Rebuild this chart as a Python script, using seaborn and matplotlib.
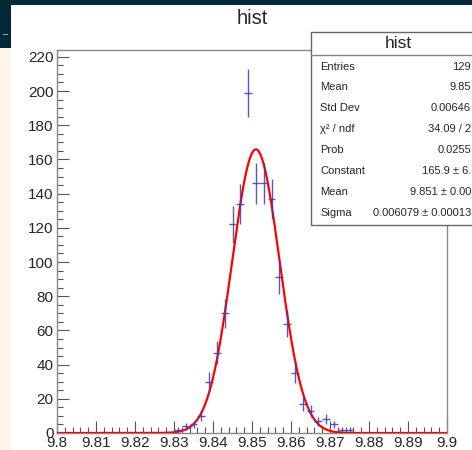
import numpy as np
import matplotlib.pyplot as plt
import seaborn as sns
from matplotlib.patches import Rectangle
from matplotlib.ticker import MultipleLocator

# histogram contents (non-empty bins only, bin width 0.002)
bin_centers = [9.831, 9.833, 9.835, 9.837, 9.839, 9.841, 9.843, 9.845, 9.847,
               9.849, 9.851, 9.853, 9.855, 9.857, 9.859, 9.861, 9.863, 9.865,
               9.867, 9.869, 9.871, 9.873, 9.875]
counts = [2, 4, 5, 10, 30, 47, 70, 122, 134,
          199, 146, 146, 137, 91, 64, 35, 17, 13,
          7, 8, 5, 2, 2]
bin_width = 0.002

# gaussian fit result
fit_const = 165.9
fit_mean = 9.851
fit_sigma = 0.006079

x_ticks = [9.80, 9.81, 9.82, 9.83, 9.84, 9.85, 9.86, 9.87, 9.88, 9.89, 9.90]
x_tick_labels = ["9.8", "9.81", "9.82", "9.83", "9.84", "9.85", "9.86",
                 "9.87", "9.88", "9.89", "9.9"]
y_ticks = [0, 20, 40, 60, 80, 100, 120, 140, 160, 180, 200, 220]

stat_labels = ["Entries", "Mean", "Std Dev", "χ² / ndf", "Prob",
               "Constant", "Mean", "Sigma"]
stat_values = ["129", "9.85", "0.00646", "34.09 / 2", "0.0255",
               "165.9 ± 6.", "9.851 ± 0.00", "0.006079 ± 0.00013"]

sns.set_style("ticks")
plt.rcParams["font.family"] = ["Liberation Sans", "DejaVu Sans"]

W, H = 472, 450
fig = plt.figure(figsize=(W / 100, H / 100), dpi=100)
fig.patch.set_facecolor("white")

def fx(px):
    return px / W

def fy(py):
    return 1 - py / H

# screenshot border bits
fig.add_artist(Rectangle((0, fy(5)), 1, 5 / H, transform=fig.transFigure,
                         color="#03283a", lw=0))
fig.add_artist(Rectangle((0, 0), fx(11), fy(48), transform=fig.transFigure,
                         color="#fdf6e5", lw=0))
fig.add_artist(Rectangle((0, fy(48)), fx(11), 48 / H, transform=fig.transFigure,
                         color="#03283a", lw=0))
fig.add_artist(Rectangle((fx(3), fy(35)), fx(5), 1.5 / H, transform=fig.transFigure,
                         color="#9aa6ad", lw=0))

ax = fig.add_axes([fx(57), fy(433), fx(447) - fx(57), fy(50) - fy(433)])

xs = np.linspace(9.8, 9.9, 600)
ys = fit_const * np.exp(-0.5 * ((xs - fit_mean) / fit_sigma) ** 2)
sns.lineplot(x=xs, y=ys, ax=ax, color="red", linewidth=1.6, zorder=3)

ax.errorbar(bin_centers, counts, yerr=np.sqrt(counts), xerr=bin_width / 2,
            fmt="none", ecolor="#3c3cb4", elinewidth=1.0, alpha=0.85, zorder=4)

ax.set_xlim(9.8, 9.9)
ax.set_ylim(0, 224)
ax.set_xticks(x_ticks)
ax.set_xticklabels(x_tick_labels)
ax.set_yticks(y_ticks)
ax.xaxis.set_minor_locator(MultipleLocator(0.002))
ax.yaxis.set_minor_locator(MultipleLocator(5))
ax.tick_params(which="major", direction="in", length=8.5, width=0.8,
               color="#555555", labelsize=11, pad=2.5)
ax.tick_params(which="minor", direction="in", length=4.3, width=0.8,
               color="#555555")
for s in ax.spines.values():
    s.set_color("#888888")
    s.set_linewidth(1.0)

fig.text(fx(252), fy(19), "hist", ha="center", va="center", fontsize=14.5)

# stat box
fig.add_artist(Rectangle((fx(311), fy(225)), fx(175), 193 / H,
                         transform=fig.transFigure, facecolor="white",
                         edgecolor="#666666", lw=1.0, zorder=5))
fig.add_artist(plt.Line2D([fx(311), fx(486)], [fy(55), fy(55)],
                          transform=fig.transFigure, color="#888888", lw=1.0, zorder=6))
fig.text(fx(398), fy(43), "hist", ha="center", va="center", fontsize=12.5, zorder=7)
for i, (lab, val) in enumerate(zip(stat_labels, stat_values)):
    yy = fy(66.5 + i * 20.9)
    fig.text(fx(320), yy, lab, ha="left", va="center", fontsize=8, zorder=7)
    fig.text(fx(471), yy, val, ha="right", va="center", fontsize=8, zorder=7)

fig.savefig("out.png", dpi=100)
